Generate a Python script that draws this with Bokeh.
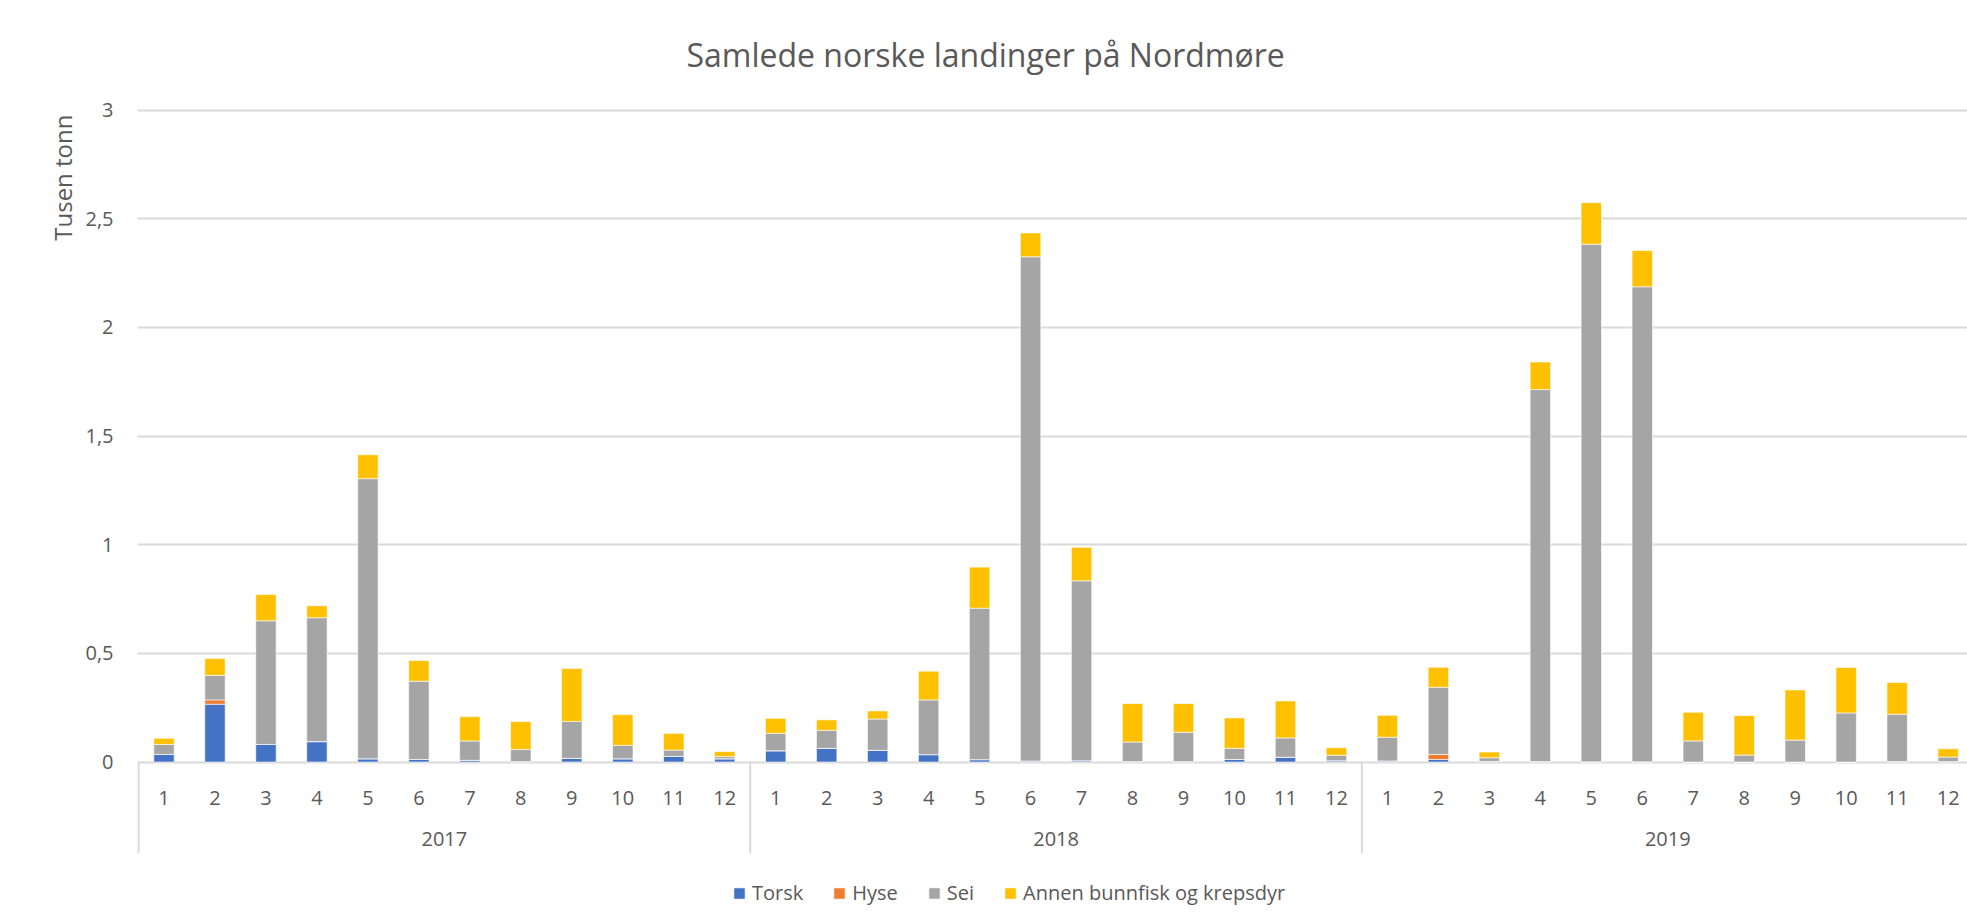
from bokeh.plotting import figure
from bokeh.models import Range1d, FixedTicker, Legend, LegendItem, Title, ColumnDataSource
from bokeh.embed import file_html
from bokeh.resources import INLINE
from bokeh.core.properties import value

# ---------------- data ----------------
years = ["2017", "2018", "2019"]
months = ["1", "2", "3", "4", "5", "6", "7", "8", "9", "10", "11", "12"]

series_names = ["Torsk", "Hyse", "Sei", "Annen bunnfisk og krepsdyr"]
colors = ["#4472C4", "#ED7D31", "#A5A5A5", "#FFC000"]

torsk = [0.035, 0.266, 0.081, 0.094, 0.015, 0.012, 0.008, 0.002, 0.017, 0.015, 0.026, 0.015,
         0.052, 0.063, 0.054, 0.034, 0.011, 0.005, 0.006, 0.002, 0.002, 0.012, 0.022, 0.006,
         0.005, 0.012, 0.003, 0.002, 0.001, 0.001, 0.000, 0.000, 0.000, 0.000, 0.002, 0.002]
hyse = [0.000, 0.020, 0.000, 0.000, 0.000, 0.000, 0.000, 0.000, 0.000, 0.000, 0.000, 0.000,
        0.000, 0.000, 0.000, 0.000, 0.000, 0.000, 0.000, 0.000, 0.000, 0.000, 0.000, 0.000,
        0.000, 0.023, 0.000, 0.000, 0.000, 0.000, 0.000, 0.000, 0.000, 0.000, 0.000, 0.000]
sei = [0.046, 0.113, 0.569, 0.570, 1.289, 0.360, 0.089, 0.056, 0.170, 0.062, 0.029, 0.010,
       0.080, 0.083, 0.144, 0.252, 0.697, 2.320, 0.828, 0.090, 0.135, 0.051, 0.089, 0.025,
       0.109, 0.309, 0.017, 1.712, 2.382, 2.186, 0.097, 0.032, 0.101, 0.226, 0.218, 0.021]
annen = [0.028, 0.077, 0.121, 0.055, 0.110, 0.095, 0.112, 0.128, 0.243, 0.141, 0.077, 0.023,
         0.069, 0.048, 0.037, 0.132, 0.189, 0.110, 0.154, 0.177, 0.132, 0.140, 0.170, 0.035,
         0.101, 0.092, 0.026, 0.127, 0.191, 0.167, 0.132, 0.182, 0.231, 0.209, 0.146, 0.038]

y_ticks = [0, 0.5, 1, 1.5, 2, 2.5, 3]
y_tick_labels = ["0", "0,5", "1", "1,5", "2", "2,5", "3"]

# ---------------- derived ----------------
n_months = len(months)
xs = list(range(len(years) * n_months))
month_labels = months * len(years)
year_centers = [i * n_months + (n_months - 1) / 2 for i in range(len(years))]
separators = [i * n_months - 0.5 for i in range(len(years))]

source = ColumnDataSource(dict(x=xs, torsk=torsk, hyse=hyse, sei=sei, annen=annen))

TEXT = "#595959"
GRID = "#d9d9d9"
FONT = "Open Sans"

p = figure(width=1967, height=923,
           x_range=Range1d(-0.52, 35.38), y_range=Range1d(-0.743, 3.012),
           output_backend="svg", toolbar_location=None,
           min_border_left=137, min_border_right=0, min_border_top=107, min_border_bottom=0)

p.outline_line_color = None
p.xaxis.visible = False
p.xgrid.grid_line_color = None

yax = p.yaxis[0]
yax.ticker = FixedTicker(ticks=y_ticks)
yax.major_label_overrides = {t: l for t, l in zip(y_ticks, y_tick_labels)}
yax.axis_line_color = None
yax.major_tick_line_color = None
yax.minor_tick_line_color = None
yax.major_tick_out = 0
yax.major_tick_in = 0
yax.major_label_standoff = 24
yax.major_label_text_font = FONT
yax.major_label_text_font_size = "20px"
yax.major_label_text_color = TEXT

p.ygrid.ticker = FixedTicker(ticks=y_ticks)
p.ygrid.grid_line_color = GRID
p.ygrid.grid_line_width = 2

# bars
renderers = p.vbar_stack(["torsk", "hyse", "sei", "annen"], x="x", width=0.4,
                         color=colors, line_color="white", line_width=0.6,
                         source=source)

# category axis (months / years) with group separators
p.segment(x0=separators, y0=[0] * len(separators), x1=separators, y1=[-0.42] * len(separators),
          line_color=GRID, line_width=2)
p.text(x=xs, y=[-0.165] * len(xs), text=month_labels,
       text_font=value(FONT), text_font_size="20px", text_color=TEXT,
       text_align="center", text_baseline="middle")
p.text(x=year_centers, y=[-0.355] * len(year_centers), text=years,
       text_font=value(FONT), text_font_size="20px", text_color=TEXT,
       text_align="center", text_baseline="middle")

# y axis title (placed near the top, as in the original)
ytitle = Title(text="Tusen tonn", align="right", offset=7, standoff=7,
               text_font=FONT, text_font_size="24px", text_font_style="normal",
               text_color=TEXT)
p.add_layout(ytitle, "left")

# chart title
p.title.text = "Samlede norske landinger på Nordmøre"
p.title.align = "left"
p.title.vertical_align = "top"
p.title.offset = 549
p.title.standoff = 60
p.title.text_font = FONT
p.title.text_font_size = "32px"
p.title.text_font_style = "normal"
p.title.text_color = TEXT

# legend
legend = Legend(items=[LegendItem(label=n, renderers=[r]) for n, r in zip(series_names, renderers)],
                orientation="horizontal", location=(595, 17),
                glyph_width=14, glyph_height=14, label_standoff=6, spacing=29,
                padding=0, margin=0, border_line_color=None, background_fill_alpha=0,
                label_text_font=FONT, label_text_font_size="20px", label_text_color=TEXT)
p.add_layout(legend)

open("out.html", "w").write(file_html(p, INLINE))
